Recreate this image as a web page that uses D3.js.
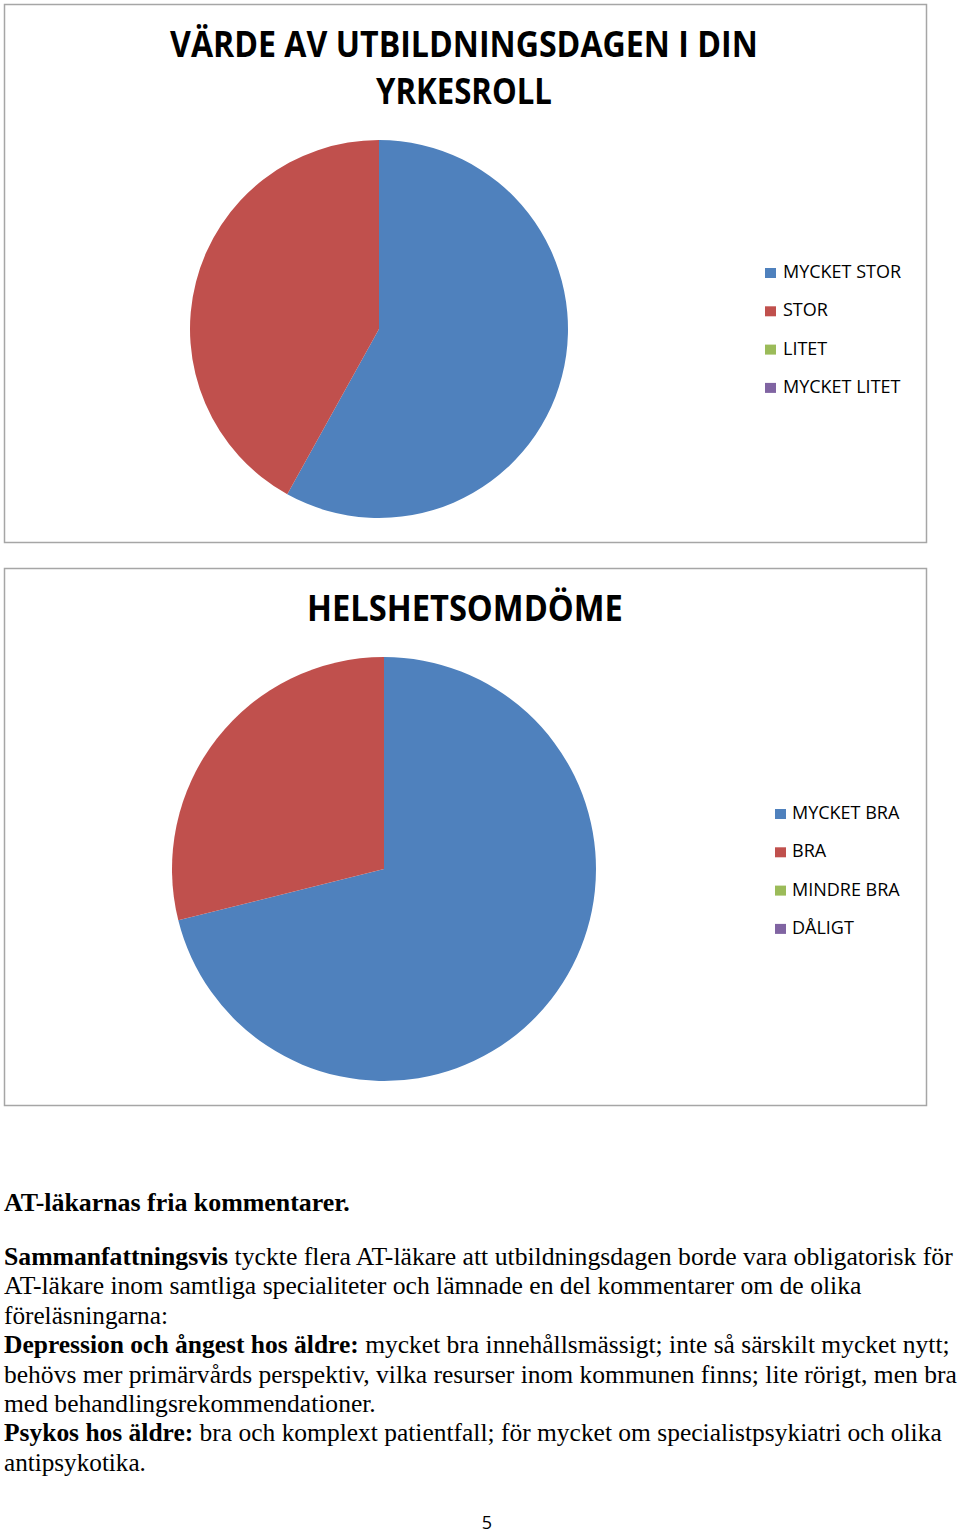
<!DOCTYPE html>
<html>
<head>
<meta charset="utf-8">
<script src="https://cdn.jsdelivr.net/npm/d3@7"></script>
<style>
  html, body { margin:0; padding:0; background:#fff; }
  svg { display:block; }
  .title { font-family: "Liberation Sans Narrow", "Open Sans", sans-serif; font-weight:bold; fill:#000; }
  .legend-label { font-family: "Open Sans", sans-serif; font-size:18px; fill:#000; }
  .body-text { font-family: "Liberation Serif", "Times New Roman", serif; font-size:25px; fill:#000; }
  .page-num { font-family: "Open Sans", sans-serif; font-size:18px; fill:#000; }
</style>
</head>
<body>
<svg id="page" width="960" height="1536"></svg>
<script>
(function(){

// ---- data ----
const seriesColors = ['#4F81BD', '#C0504D', '#9BBB59', '#8064A2'];

const chart1Title = ['VÄRDE AV UTBILDNINGSDAGEN I DIN', 'YRKESROLL'];
const chart1Categories = ['MYCKET STOR', 'STOR', 'LITET', 'MYCKET LITET'];
const chart1Values = [18, 13, 0, 0];

const chart2Title = ['HELSHETSOMDÖME'];
const chart2Categories = ['MYCKET BRA', 'BRA', 'MINDRE BRA', 'DÅLIGT'];
const chart2Values = [32, 13, 0, 0];

const heading = 'AT-läkarnas fria kommentarer.';
// each line: list of [text, bold]
const bodyLines = [
  [['Sammanfattningsvis', true], [' tyckte flera AT-läkare att utbildningsdagen borde vara obligatorisk för', false]],
  [['AT-läkare inom samtliga specialiteter och lämnade en del kommentarer om de olika', false]],
  [['föreläsningarna:', false]],
  [['Depression och ångest hos äldre:', true], [' mycket bra innehållsmässigt; inte så särskilt mycket nytt;', false]],
  [['behövs mer primärvårds perspektiv, vilka resurser inom kommunen finns; lite rörigt, men bra', false]],
  [['med behandlingsrekommendationer.', false]],
  [['Psykos hos äldre:', true], [' bra och komplext patientfall; för mycket om specialistpsykiatri och olika', false]],
  [['antipsykotika.', false]]
];
const pageNumber = '5';

const svg = d3.select('#page');

// squeeze/stretch a text node horizontally to a target width
function fitWidth(textSel, x, y, width, anchor){
  const w = textSel.node().getComputedTextLength();
  const sx = w > 0 ? width / w : 1;
  const x0 = anchor === 'middle' ? x - width/2 : x;
  textSel.attr('x', 0).attr('y', 0)
    .attr('transform', `translate(${x0},${y}) scale(${sx},1)`);
}

function drawPieChart(cfg){
  const g = svg.append('g');

  g.append('rect')
    .attr('x', cfg.box[0] + 0.5).attr('y', cfg.box[1] + 0.5)
    .attr('width', cfg.box[2]).attr('height', cfg.box[3])
    .attr('fill', '#fff').attr('stroke', '#a6a6a6').attr('stroke-width', 1.5);

  cfg.title.forEach((line, i) => {
    const t = g.append('text').attr('class', 'title')
      .style('font-size', cfg.titleSize + 'px')
      .text(line);
    fitWidth(t, cfg.titleX, cfg.titleY[i], cfg.titleW[i], 'middle');
  });

  const pie = d3.pie().sort(null).value(d => d);
  const arc = d3.arc().innerRadius(0).outerRadius(cfg.r);
  const color = d3.scaleOrdinal().domain(cfg.categories).range(seriesColors);

  g.append('g')
    .attr('transform', `translate(${cfg.cx},${cfg.cy})`)
    .selectAll('path')
    .data(pie(cfg.values).map((p, i) => ({...p, cat: cfg.categories[i]})))
    .join('path')
    .attr('d', arc)
    .attr('fill', d => color(d.cat));

  const leg = g.append('g')
    .selectAll('g')
    .data(cfg.categories)
    .join('g')
    .attr('transform', (d, i) => `translate(${cfg.legX},${cfg.legY + i * cfg.legStep})`);
  leg.append('rect')
    .attr('x', 0).attr('y', -10).attr('width', 11).attr('height', 10)
    .attr('fill', d => color(d));
  leg.append('text').attr('class', 'legend-label')
    .attr('x', cfg.legTextDx).attr('y', 0)
    .text(d => d);
}

drawPieChart({
  box: [4, 4, 922, 538],
  title: chart1Title, titleSize: 36, titleX: 464, titleY: [57, 104], titleW: [588, 176],
  categories: chart1Categories, values: chart1Values,
  cx: 379, cy: 329, r: 189,
  legX: 765, legY: 278, legStep: 38.3, legTextDx: 18
});

drawPieChart({
  box: [4, 568, 922, 537],
  title: chart2Title, titleSize: 36, titleX: 465, titleY: [621], titleW: [316],
  categories: chart2Categories, values: chart2Values,
  cx: 384, cy: 869, r: 212,
  legX: 775, legY: 819, legStep: 38.3, legTextDx: 17
});

// ---- text below the charts ----
const h = svg.append('text').attr('class', 'body-text')
  .style('font-weight', 'bold').text(heading);
fitWidth(h, 4, 1211, 346, 'start');

const lineWidths = [949, 858, 164, 946, 953, 372, 938, 142];
bodyLines.forEach((runs, i) => {
  const t = svg.append('text').attr('class', 'body-text').attr('xml:space', 'preserve');
  runs.forEach(([txt, bold]) => {
    t.append('tspan').style('font-weight', bold ? 'bold' : 'normal').text(txt);
  });
  fitWidth(t, 4, 1265 + i * 29.4, lineWidths[i], 'start');
});

svg.append('text').attr('class', 'page-num')
  .attr('x', 487).attr('y', 1529).attr('text-anchor', 'middle')
  .text(pageNumber);

})();
</script>
</body>
</html>
